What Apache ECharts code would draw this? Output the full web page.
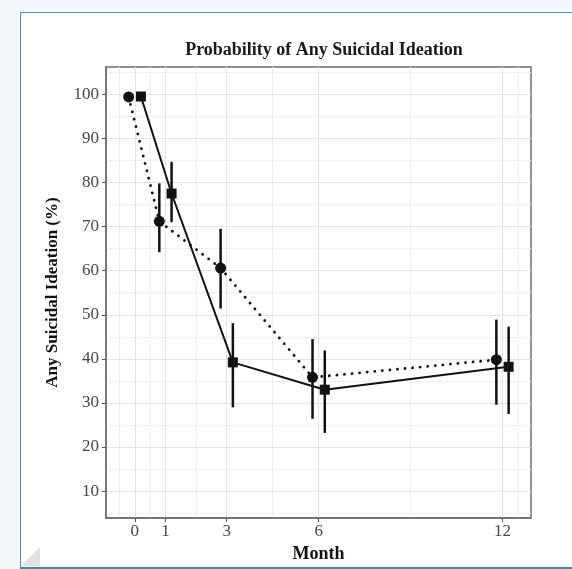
<!DOCTYPE html>
<html>
<head>
<meta charset="utf-8">
<script src="https://cdn.jsdelivr.net/npm/echarts@6/dist/echarts.min.js"></script>
<style>
  html, body { margin: 0; padding: 0; background: #f3f9fc; }
  #panel {
    position: absolute; left: 20px; top: 12px; width: 560px; height: 554px;
    background: #ffffff; border-left: 1.5px solid #4b93a8; border-top: 1.5px solid #4b93a8;
    border-bottom: 2px solid #3f8aa3;
  }
  #chart { position: absolute; left: 0; top: 0; width: 572px; height: 569px; }
</style>
</head>
<body>
<div id="panel"></div>
<div id="chart"></div>
<script>
// 数据
var months = [0, 1, 3, 6, 12];
var circleMean = [99.4, 71.2, 60.6, 35.8, 39.8];
var circleLow = [null, 64.2, 51.4, 26.4, 29.6];
var circleHigh = [null, 79.8, 69.5, 44.5, 48.9];
var squareMean = [99.5, 77.5, 39.2, 33.0, 38.2];
var squareLow = [null, 71.0, 29.0, 23.2, 27.5];
var squareHigh = [null, 84.7, 48.1, 41.9, 47.3];
var xTicks = [0, 1, 3, 6, 12];
var xMinor = [-0.5, 0.5, 2, 4.5, 9, 12.5];
var yTicks = [10, 20, 30, 40, 50, 60, 70, 80, 90, 100];
var yMinor = [5, 15, 25, 35, 45, 55, 65, 75, 85, 95, 105];
var dodge = 0.2;

(function () {
    var myChart = echarts.init(document.getElementById('chart'));
    var serif = 'Liberation Serif';

    function pts(mean, off) {
        return months.map(function (m, i) { return [m + off, mean[i]]; });
    }
    function bars(low, high, off) {
        var out = [];
        months.forEach(function (m, i) {
            if (low[i] != null) out.push([m + off, low[i], high[i]]);
        });
        return out;
    }
    function errRender(params, api) {
        var a = api.coord([api.value(0), api.value(1)]);
        var b = api.coord([api.value(0), api.value(2)]);
        return {
            type: 'line',
            shape: { x1: a[0], y1: a[1], x2: b[0], y2: b[1] },
            style: { stroke: '#111', lineWidth: 2.5 }
        };
    }
    var gridMajor = { color: '#e3e3e3', width: 1, type: 'solid' };
    var gridMinor = { color: '#efefef', width: 1, type: 'solid' };
    var gridLines = []
        .concat(xMinor.map(function (v) { return { xAxis: v, lineStyle: gridMinor }; }))
        .concat(yMinor.map(function (v) { return { yAxis: v, lineStyle: gridMinor }; }))
        .concat(xTicks.map(function (v) { return { xAxis: v, lineStyle: gridMajor }; }))
        .concat(yTicks.map(function (v) { return { yAxis: v, lineStyle: gridMajor }; }));

    var option = {
        animation: false,
        title: {
            text: 'Probability of Any Suicidal Ideation',
            left: 319, top: 36, textAlign: 'center',
            textStyle: { fontFamily: serif, fontWeight: 'bold', fontSize: 18, color: '#1a1a1a' }
        },
        grid: {
            left: 106, right: 41, top: 67, bottom: 51,
            show: true, borderColor: '#6f6f6f', borderWidth: 1.5, backgroundColor: 'transparent'
        },
        xAxis: {
            type: 'value', min: -0.94, max: 12.93,
            name: 'Month', nameLocation: 'middle', nameGap: 26,
            nameTextStyle: { fontFamily: serif, fontWeight: 'bold', fontSize: 18, color: '#111' },
            axisLine: { show: true, onZero: false, lineStyle: { color: '#6f6f6f', width: 1.5 } },
            axisTick: { show: true, customValues: xTicks, length: 4, lineStyle: { color: '#555' } },
            axisLabel: { customValues: xTicks, fontFamily: serif, fontSize: 17, color: '#474747', margin: 5 },
            splitLine: { show: false }
        },
        yAxis: {
            type: 'value', min: 3.9, max: 106.2,
            name: 'Any Suicidal Ideation (%)', nameLocation: 'middle', nameGap: 45, nameRotate: 90,
            nameTextStyle: { fontFamily: serif, fontWeight: 'bold', fontSize: 17, color: '#111' },
            axisLine: { show: true, onZero: false, lineStyle: { color: '#6f6f6f', width: 1.5 } },
            axisTick: { show: true, customValues: yTicks, length: 4, lineStyle: { color: '#555' } },
            axisLabel: { customValues: yTicks, fontFamily: serif, fontSize: 17, color: '#474747', margin: 7 },
            splitLine: { show: false }
        },
        graphic: [{
            type: 'polygon', silent: true,
            shape: { points: [[21, 566], [40, 547], [40, 566]] },
            style: { fill: '#dfe0e5' }
        }],
        series: [
            {
                type: 'line', data: [], silent: true, z: 1,
                markLine: { silent: true, z: 0, symbol: 'none', label: { show: false }, animation: false, data: gridLines }
            },
            {
                name: 'circle-line', type: 'line', data: pts(circleMean, -dodge), showSymbol: false, z: 3,
                lineStyle: { color: '#111', width: 2.8, type: [0.1, 7.5], cap: 'round' }
            },
            {
                name: 'square-line', type: 'line', data: pts(squareMean, dodge), showSymbol: false, z: 3,
                lineStyle: { color: '#111', width: 2 }
            },
            {
                type: 'custom', renderItem: errRender, data: bars(circleLow, circleHigh, -dodge), z: 4,
                encode: { x: 0, y: [1, 2] }
            },
            {
                type: 'custom', renderItem: errRender, data: bars(squareLow, squareHigh, dodge), z: 4,
                encode: { x: 0, y: [1, 2] }
            },
            {
                type: 'scatter', data: pts(circleMean, -dodge), symbol: 'circle', symbolSize: 11, z: 5,
                itemStyle: { color: '#111', opacity: 1 }
            },
            {
                type: 'scatter', data: pts(squareMean, dodge), symbol: 'rect', symbolSize: 10, z: 5,
                itemStyle: { color: '#111', opacity: 1 }
            }
        ]
    };
    myChart.setOption(option);
    window.addEventListener('resize', function () {
        myChart.resize();
    });
})();
</script>
</body>
</html>
